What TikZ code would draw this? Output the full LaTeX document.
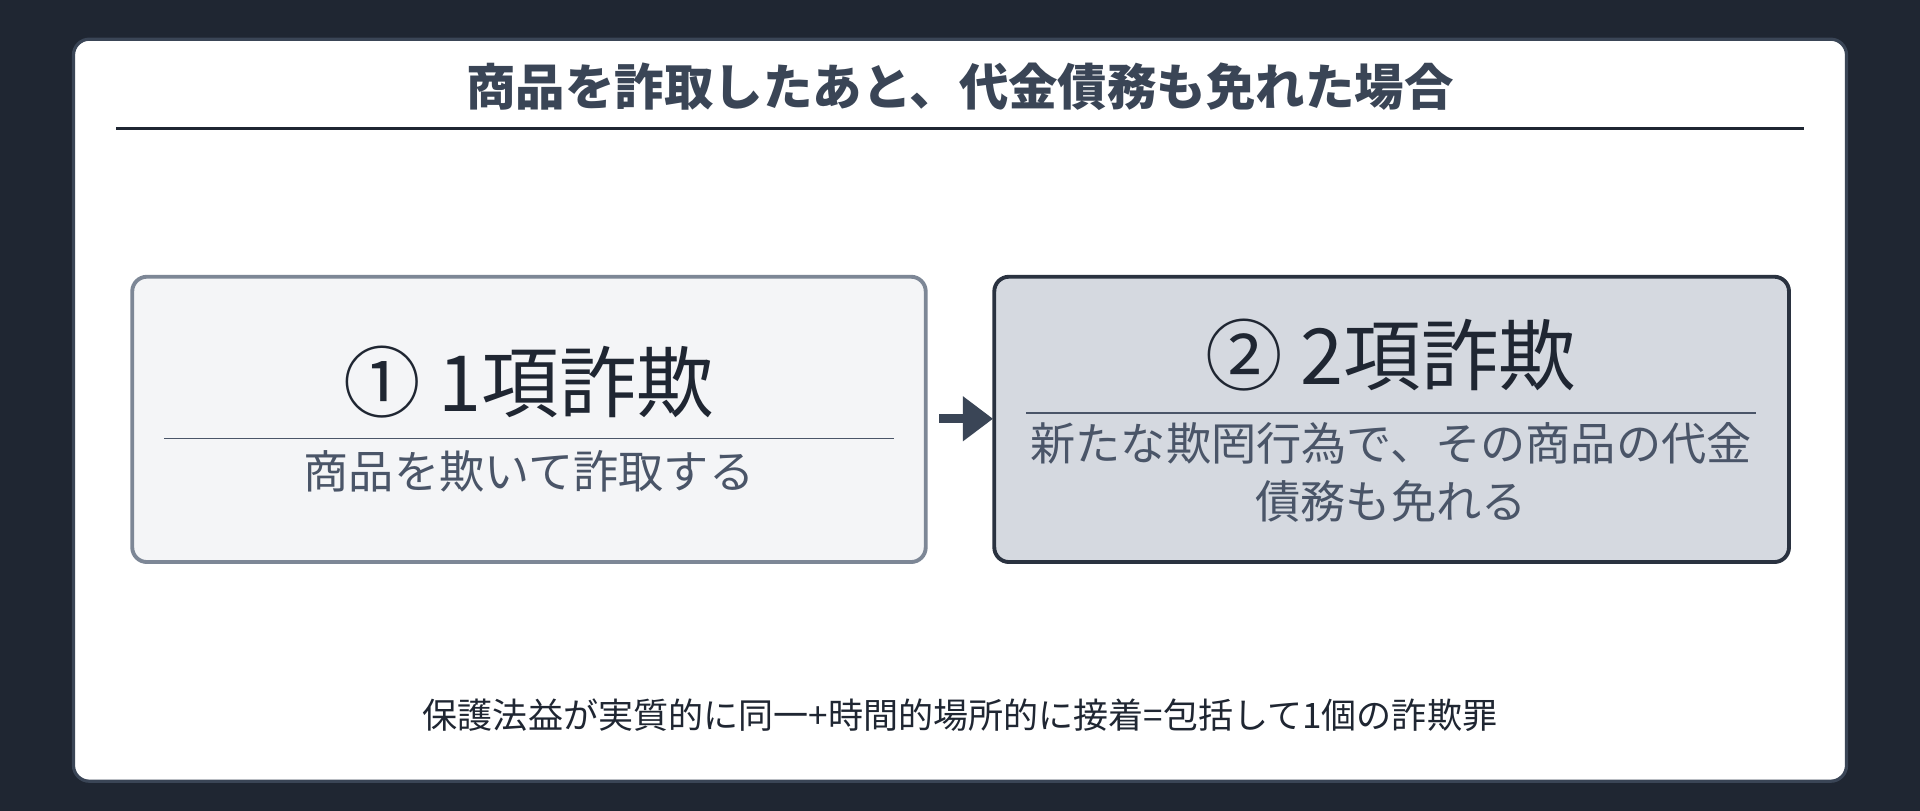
\documentclass[tikz,border=0pt]{standalone}
\usepackage{fontspec}
\setmainfont{Noto Sans CJK JP}
\usetikzlibrary{arrows.meta}
\definecolor{bgdark}{HTML}{1F2632}
\definecolor{titlec}{HTML}{3A4556}
\definecolor{subc}{HTML}{4A5568}
\definecolor{boxa}{HTML}{F4F5F7}
\definecolor{boxaline}{HTML}{7D8796}
\definecolor{boxb}{HTML}{D5D9E0}
\definecolor{boxbline}{HTML}{2A3240}
\begin{document}
\begin{tikzpicture}[x=0.02cm,y=-0.02cm,
  box/.style={rounded corners=0.24cm,line width=1.8pt},
  big/.style={font=\fontsize{36}{40}\selectfont,text=bgdark,inner sep=0},
  sub/.style={font=\fontsize{21}{27}\selectfont,text=subc,inner sep=0,align=center}]
\fill[bgdark] (0,0) rectangle (1568,662);
\useasboundingbox (0,0) rectangle (1568,662);
\draw[fill=white,draw=titlec,line width=1.5pt,rounded corners=0.26cm] (60,32) rectangle (1508,638);
\node[font=\bfseries\fontsize{23}{26}\selectfont,text=titlec,inner sep=0] (title) at (784,71) {商品を詐取したあと、代金債務も免れた場合};
\draw[bgdark,line width=1pt] (95,105) -- (1473,105);
% box 1
\draw[box,fill=boxa,draw=boxaline] (108,226) rectangle (756,459);
\node (b1) at (432,342) {};
\node[big] (t1) at (432,312) {① 1項詐欺};
\draw[subc,line width=0.8pt] (134,358) -- (730,358);
\node[sub] (s1) at (432,385) {商品を欺いて詐取する};
% box 2
\draw[box,fill=boxb,draw=boxbline] (812,226) rectangle (1461,459);
\node (b2) at (1136,342) {};
\node[big] (t2) at (1136,290) {② 2項詐欺};
\draw[subc,line width=0.8pt] (838,337) -- (1434,337);
\node[sub] (s2) at (1136,386) {新たな欺罔行為で、その商品の代金\\債務も免れる};
% arrow
\coordinate (a1) at (767,342);
\coordinate (a2) at (811,342);
\draw[titlec,line width=4pt,-{Triangle[length=14pt,width=20pt]}] (a1) -- (a2);
\node[font=\fontsize{16.3}{20}\selectfont,text=bgdark,inner sep=0] (foot) at (784,584) {保護法益が実質的に同一+時間的場所的に接着=包括して1個の詐欺罪};
\end{tikzpicture}
\end{document}
